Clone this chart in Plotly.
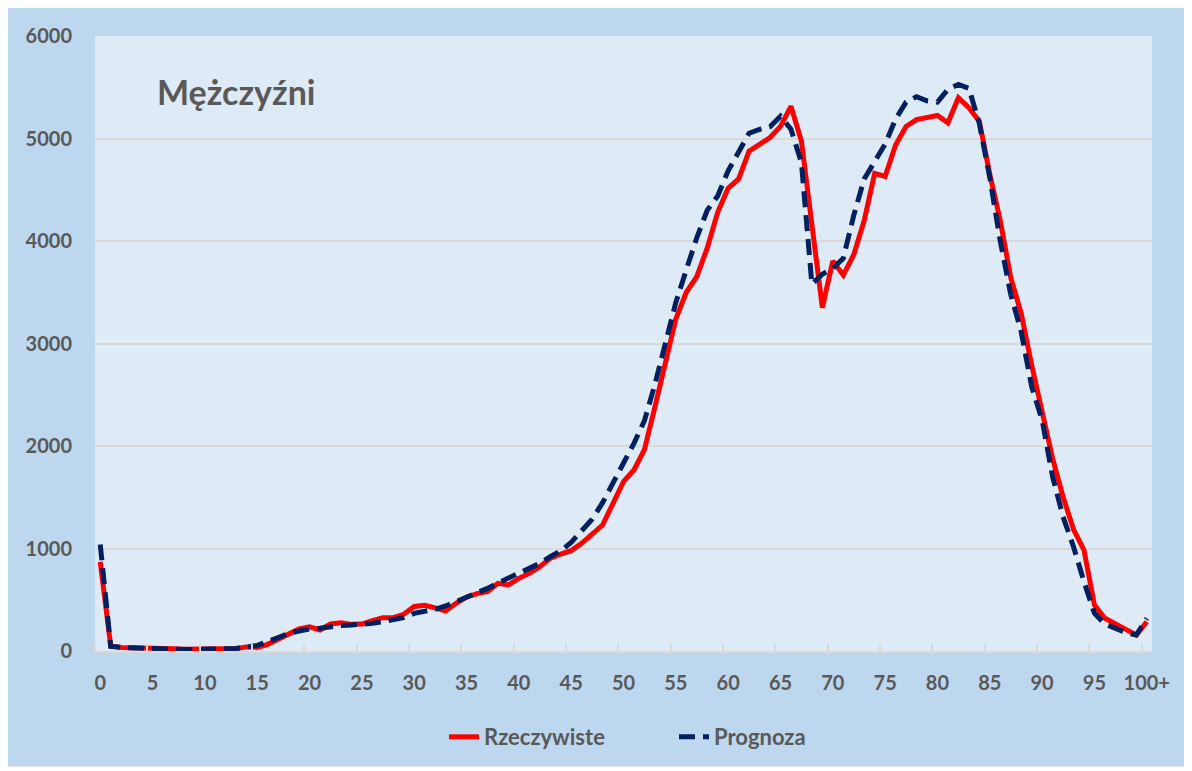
import plotly.graph_objects as go

ages = list(range(101))
age_labels = [str(a) for a in range(100)] + ["100+"]

rzeczywiste = [
    870, 50, 35, 30, 28, 25, 25, 22, 18, 18,
    18, 17, 18, 25, 40, 35, 65, 115, 163, 215,
    235, 205, 263, 275, 260, 263, 296, 325, 325, 358,
    435, 446, 420, 390, 465, 525, 560, 579, 660, 644,
    709, 758, 823, 904, 946, 979, 1050, 1132, 1229, 1441,
    1652, 1766, 1965, 2380, 2800, 3240, 3500, 3652, 3930, 4280,
    4514, 4605, 4876, 4940, 5010, 5118, 5314, 4975, 4120, 3350,
    3805, 3668, 3866, 4200, 4660, 4630, 4937, 5118, 5185, 5200,
    5225, 5153, 5397, 5300, 5168, 4650, 4200, 3645, 3294, 2790,
    2319, 1880, 1505, 1187, 985, 449, 319, 270, 211, 156,
    286,
]

prognoza = [
    1040, 45, 35, 30, 28, 25, 22, 18, 15, 15,
    15, 15, 18, 25, 38, 55, 91, 133, 172, 195,
    215, 221, 237, 250, 254, 260, 270, 286, 302, 325,
    367, 384, 407, 439, 481, 530, 569, 611, 663, 709,
    758, 813, 855, 920, 976, 1060, 1164, 1285, 1447, 1636,
    1815, 2026, 2247, 2600, 3000, 3400, 3720, 4030, 4300, 4440,
    4685, 4863, 5051, 5089, 5115, 5217, 5090, 4766, 3580, 3676,
    3733, 3830, 4250, 4605, 4766, 4945, 5190, 5355, 5408, 5368,
    5355, 5480, 5527, 5490, 5148, 4620, 4000, 3480, 3115, 2579,
    2254, 1701, 1310, 1018, 676, 368, 263, 221, 179, 156,
    319,
]

tick_ages = list(range(0, 101, 5))
tick_text = [age_labels[a] for a in tick_ages]

FONT = "Lato"
GREY = "#595959"
PLOT_BG = "#DEEAF6"
CHART_BG = "#BDD7EE"

# page has an 8px body margin; plot area target: x 95..1152, y 36..651 (page px)
PX0, PX1, PY0, PY1 = 95, 1152, 36, 651
def px(x):
    return (x - PX0) / (PX1 - PX0)
def py(y):
    return (PY1 - y) / (PY1 - PY0)

fig = go.Figure()
fig.add_trace(go.Scatter(
    x=ages, y=rzeczywiste, name="Rzeczywiste", mode="lines",
    line=dict(color="#FF0000", width=5),
))
fig.add_trace(go.Scatter(
    x=ages, y=prognoza, name="Prognoza", mode="lines",
    line=dict(color="#002060", width=5, dash="16px,8px"),
))

fig.update_layout(
    width=1192, height=771,
    margin=dict(l=PX0 - 8, r=1192 + 8 - PX1, t=PY0 - 8, b=771 + 8 - PY1),
    paper_bgcolor="white",
    plot_bgcolor=PLOT_BG,
    showlegend=True,
    legend=dict(
        orientation="h", x=px(444), xanchor="left", y=py(737), yanchor="middle",
        font=dict(family=FONT, size=22, color=GREY, weight="bold"),
        bgcolor="rgba(0,0,0,0)", entrywidth=185,
    ),
    shapes=[
        dict(type="rect", xref="paper", yref="paper", layer="below",
             x0=px(7), x1=px(1186), y0=py(766), y1=py(6),
             fillcolor=CHART_BG, line=dict(color="#D9D9D9", width=1.5)),
        dict(type="rect", xref="paper", yref="paper", layer="below",
             x0=0, x1=1, y0=0, y1=1,
             fillcolor=PLOT_BG, line=dict(width=0)),
    ],
    annotations=[dict(
        text="Mężczyźni", xref="paper", yref="paper",
        x=px(155), y=py(91),
        xanchor="left", yanchor="middle", showarrow=False,
        font=dict(family=FONT, size=34, color=GREY, weight="bold"),
    )],
)

fig.update_xaxes(
    range=[-0.5, 100.5],
    tickmode="array", tickvals=tick_ages, ticktext=tick_text,
    ticks="outside", ticklen=13, tickcolor="rgba(0,0,0,0)",
    showgrid=False, zeroline=False,
    showline=True, linecolor="#D9D9D9", linewidth=2,
    tickfont=dict(family=FONT, size=20, color=GREY, weight="bold"),
    minor=dict(
        tickmode="array", tickvals=[a - 0.5 for a in tick_ages],
        ticks="inside", ticklen=7, tickwidth=2, tickcolor="#D9D9D9",
        showgrid=False,
    ),
)
fig.update_yaxes(
    range=[0, 6000], dtick=1000,
    showgrid=True, gridcolor="#D9D9D9", gridwidth=1.5,
    zeroline=False, showline=False, ticks="",
    tickfont=dict(family=FONT, size=20, color=GREY, weight="bold"),
    ticklabelstandoff=22,
)

fig.write_html("out.html")
